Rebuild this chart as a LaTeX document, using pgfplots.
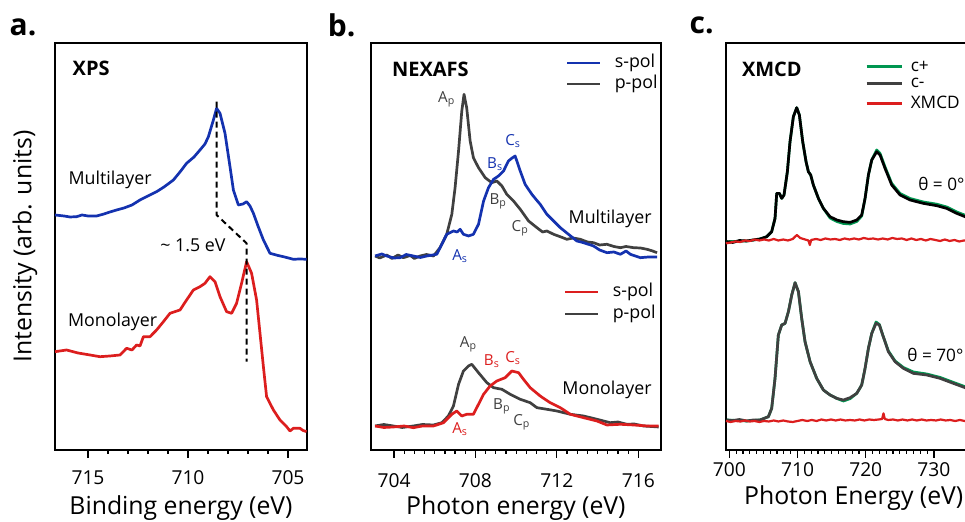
\documentclass[border=0pt]{standalone}
\usepackage{fontspec}
\setmainfont{Open Sans}
\usepackage{pgfplots}
\pgfplotsset{compat=1.18}
\definecolor{cblue}{RGB}{20,50,175}
\definecolor{cred}{RGB}{220,30,30}
\definecolor{cgray}{RGB}{64,64,64}
\definecolor{cgreen}{RGB}{0,150,80}
\pgfplotsset{panel/.style={
  scale only axis, height=203.5pt, ymin=0, ymax=407,
  ytick=\empty, xtick pos=bottom, tick align=outside,
  axis line style={line width=0.9pt},
  major tick length=4pt, minor tick length=2pt,
  every tick/.style={black, line width=0.6pt},
  tick label style={font=\fontsize{9.6}{11}\selectfont},
  label style={font=\fontsize{12.4}{15}\selectfont},
  /pgf/number format/assume math mode=true,
  /pgf/number format/1000 sep={},
  every axis plot/.append style={line width=1.35pt, line join=round},
  anchor=south west}}
\begin{document}
\begin{tikzpicture}
% ---------------- panel a ----------------
\begin{axis}[panel, at={(27.5pt,36pt)}, width=126pt,
  x dir=reverse, xmin=704.05, xmax=716.65,
  xtick={705,710,715}, minor tick num=4,
  xticklabel style={yshift=-3pt},
  xlabel={Binding energy (eV)},
  xlabel style={at={(axis description cs:0.5,-0.1425)}, anchor=center},
  ylabel={Intensity (arb. units)},
  ylabel style={at={(axis description cs:-0.119,0.5)}, anchor=center, rotate=0}]
\addplot[cblue] coordinates {
(716.65,235) (716.2,234) (715.9,233) (715.57,233.3) (715.3,235) (715.0,234) (714.57,234) (714.2,236) (713.9,238) (713.57,240)
(713.2,242) (712.8,245) (712.4,250) (712.0,254) (711.57,258.3) (711.2,263) (710.73,270) (710.4,278) (710.07,286.7)
(709.7,293) (709.4,300) (709.15,306) (708.98,313.3) (708.73,330) (708.57,341.7) (708.4,336.7) (708.15,316.7)
(707.9,283.3) (707.73,260) (707.48,245) (707.25,246) (707.07,248.3) (706.9,244) (706.73,236.7) (706.5,224)
(706.23,210) (705.9,196.7) (705.5,194.5) (705.23,193.3) (704.73,190.7) (704.4,191) (704.07,190.7)};
\addplot[cred] coordinates {
(716.65,98.3) (716.07,100) (715.5,97) (714.9,95) (714.4,93.3) (713.9,94) (713.4,95) (713.07,101.7) (712.8,100) (712.57,105)
(712.4,104) (712.23,113.3) (711.9,113.3) (711.57,120) (711.23,128.3) (710.9,136.7) (710.4,140) (710.07,150)
(709.73,160) (709.4,163.3) (709.15,166.7) (708.9,173.3) (708.65,168.3) (708.4,153.3) (708.07,138.3) (707.82,136.7)
(707.57,146.7) (707.32,166.7) (707.07,188.3) (706.82,176.7) (706.57,150) (706.4,116.7) (706.23,83.3) (706.07,53.3)
(705.73,40) (705.4,30) (705.07,23.3) (704.9,19) (704.73,21.7) (704.4,21.7) (704.25,19.5) (704.07,18.3)};
\addplot[black, line width=1pt, dashed, dash pattern=on 3pt off 2pt] coordinates {(708.57,348.3) (708.57,235) (707.07,206.7) (707.07,88.3)};
\node[anchor=west, font=\bfseries\fontsize{10}{12}\selectfont] at (axis cs:716.12,382) {XPS};
\node[anchor=west, font=\fontsize{8.9}{11}\selectfont] at (axis cs:716.32,270) {Multilayer};
\node[anchor=west, font=\fontsize{8.9}{11}\selectfont] at (axis cs:716.35,128) {Monolayer};
\node[font=\fontsize{8.9}{11}\selectfont] at (axis cs:709.75,205) {\textasciitilde\ 1.5 eV};
\end{axis}
% ---------------- panel b ----------------
\begin{axis}[panel, at={(185.5pt,36pt)}, width=144.85pt,
  xmin=702.87, xmax=717.1,
  xtick={704,708,712,716}, minor tick num=7,
  xticklabel style={yshift=-4.5pt},
  xlabel={Photon energy (eV)},
  xlabel style={at={(axis description cs:0.5,-0.1425)}, anchor=center}]
\addplot[cgray] coordinates {
(703.07,194) (703.3,192) (703.64,195) (703.9,191.5) (704.2,195) (704.46,192.3) (704.8,194.5) (705.0,191.5) (705.28,194)
(705.6,195.5) (705.94,194) (706.26,202.3) (706.59,215.7) (706.84,235.7) (707.0,262.3) (707.17,299) (707.33,339)
(707.44,355.7) (707.57,342.3) (707.74,309) (707.9,292.3) (708.15,282.3) (708.48,272.3) (708.8,267.3) (709.05,269)
(709.3,264) (709.54,255.7) (709.87,249) (710.2,240.7) (710.61,229) (711.02,222.3) (711.3,218) (711.51,219) (711.84,215.7)
(712.2,213) (712.49,210.7) (712.8,212) (713.15,210.7) (713.5,208) (713.8,207.3) (714.1,205) (714.46,205.7)
(714.8,203.5) (715.12,202.3) (715.4,203.5) (715.77,202.3) (716.1,202) (716.43,200.7) (716.7,199) (716.92,197.3)};
\addplot[cblue] coordinates {
(703.07,194) (703.4,196) (703.64,194) (704.0,192) (704.3,192.3) (704.6,195.5) (704.95,194) (705.3,192.5) (705.61,194)
(706.1,195.7) (706.59,215.7) (706.92,219) (707.1,218) (707.25,220.7) (707.41,215.7) (707.66,214) (707.9,215.7)
(708.15,225.7) (708.4,249) (708.64,262.3) (708.89,270.7) (709.13,274) (709.38,279) (709.62,289) (709.8,292)
(709.95,294) (710.2,279) (710.44,265.7) (710.77,255.7) (711.0,250) (711.18,245.7) (711.51,235.7) (711.84,229)
(712.17,222.3) (712.57,215.7) (712.98,209) (713.31,207.3) (713.8,204) (714.1,200) (714.46,197.3) (714.8,198)
(715.12,195.7) (715.4,199) (715.61,195.7) (716.1,192.3) (716.5,193) (716.92,193)};
\addplot[cgray] coordinates {
(703.07,24) (703.5,25.5) (703.97,24) (704.4,22.5) (704.95,24) (705.4,25.5) (705.94,25) (706.35,27.3) (706.67,34)
(706.92,44) (707.17,65.7) (707.41,79) (707.66,84) (707.82,85.7) (708.15,77.3) (708.56,67.3) (708.89,62.3) (709.3,60.7)
(709.71,55.7) (710.2,50.7) (710.69,47.3) (711.02,42.3) (711.51,40.7) (712.0,39) (712.66,35.7) (713.31,34)
(713.97,30.7) (714.62,27.3) (715.0,28) (715.44,25.7) (715.8,26) (716.26,24) (717.0,23)};
\addplot[cred] coordinates {
(703.07,24) (703.5,22.5) (703.97,23) (704.5,24) (704.95,22.3) (705.4,24) (705.94,24) (706.43,27.3) (706.84,35.7)
(707.08,39) (707.33,34) (707.57,35.7) (707.9,35.7) (708.15,45.7) (708.4,55.7) (708.72,64) (709.05,69) (709.46,72.3)
(709.79,79) (710.12,77.3) (710.36,70.7) (710.69,62.3) (711.18,54) (711.67,47.3) (712.17,42.3) (712.66,35.7)
(713.31,32.3) (713.97,29) (714.46,25) (715.12,25.7) (715.77,25) (716.43,24) (717.0,24)};
% legends
\draw[cblue, line width=1.35pt] (axis cs:712.51,387) -- (axis cs:714.13,387);
\draw[cgray, line width=1.35pt] (axis cs:712.51,366) -- (axis cs:714.13,366);
\node[anchor=west, font=\fontsize{8.9}{11}\selectfont] at (axis cs:714.5,387) {s-pol};
\node[anchor=west, font=\fontsize{8.9}{11}\selectfont] at (axis cs:714.5,366) {p-pol};
\draw[cred, line width=1.35pt] (axis cs:712.41,158) -- (axis cs:714.04,158);
\draw[cgray, line width=1.35pt] (axis cs:712.41,136) -- (axis cs:714.04,136);
\node[anchor=west, font=\fontsize{8.9}{11}\selectfont] at (axis cs:714.4,158) {s-pol};
\node[anchor=west, font=\fontsize{8.9}{11}\selectfont] at (axis cs:714.4,136) {p-pol};
\node[anchor=west, font=\bfseries\fontsize{10}{12}\selectfont] at (axis cs:703.56,381) {NEXAFS};
\node[anchor=east, font=\fontsize{8.9}{11}\selectfont] at (axis cs:717.0,231) {Multilayer};
\node[anchor=east, font=\fontsize{8.9}{11}\selectfont] at (axis cs:717.0,60) {Monolayer};
\begin{scope}[every node/.style={font=\fontsize{7.6}{9}\selectfont}]
\node[cgray] at (axis cs:706.59,351) {A\textsubscript{p}};
\node[cblue] at (axis cs:708.97,286) {B\textsubscript{s}};
\node[cblue] at (axis cs:709.85,309) {C\textsubscript{s}};
\node[cgray] at (axis cs:709.12,249) {B\textsubscript{p}};
\node[cgray] at (axis cs:710.2,222) {C\textsubscript{p}};
\node[cblue] at (axis cs:707.25,194) {A\textsubscript{s}};
\node[cgray] at (axis cs:707.66,106) {A\textsubscript{p}};
\node[cred] at (axis cs:708.81,89) {B\textsubscript{s}};
\node[cred] at (axis cs:709.85,92) {C\textsubscript{s}};
\node[cgray] at (axis cs:709.3,44) {B\textsubscript{p}};
\node[cgray] at (axis cs:710.28,27.3) {C\textsubscript{p}};
\node[cred] at (axis cs:707.25,21) {A\textsubscript{s}};
\end{scope}
\end{axis}
% ---------------- panel c ----------------
\begin{axis}[panel, at={(362.85pt,36pt)}, width=128pt,
  xmin=699.47, xmax=737,
  xtick={700,710,720,730}, minor tick num=9,
  xticklabel style={yshift=1pt},
  xlabel={Photon Energy (eV)},
  xlabel style={at={(axis description cs:0.5,-0.118)}, anchor=center}]
% top: c+ (green) and c- (black)
\addplot[cgreen] coordinates {
(699.62,208.3) (702.55,209) (704.5,211) (705.48,213.3) (706.21,218.3) (706.7,231.6) (706.95,256.6) (707.34,256.6)
(707.68,251.6) (708.02,255) (708.51,278.3) (708.9,308.3) (709.39,333.3) (709.88,342.3) (710.27,335) (710.76,308.3)
(711.25,288.3) (711.59,278.3) (711.93,275) (712.32,265) (713.06,251.6) (713.79,241.6) (714.77,232) (715.75,228.5)
(716.72,226.5) (717.7,226) (718.68,228.5) (719.41,234) (719.9,251.6) (720.39,275) (720.88,290) (721.61,300)
(722.1,296.5) (722.83,283) (723.81,266.5) (725.03,256.5) (726.5,251.5) (728.45,248) (730.41,245.8) (731.87,243)
(733.34,238) (734.56,234.8) (737,228.5)};
\addplot[black] coordinates {
(699.62,208.3) (700.5,207.5) (701.5,209.5) (702.55,209) (703.5,210) (704.5,211) (705.48,213.3) (706.21,218.3) (706.7,231.6) (706.95,256.6) (707.34,256.6)
(707.68,251.6) (708.02,255) (708.51,278.3) (708.9,308.3) (709.39,333.3) (709.88,342.3) (710.27,335) (710.76,308.3)
(711.25,288.3) (711.59,278.3) (711.93,275) (712.32,265) (713.06,251.6) (713.79,241.6) (714.77,233.3) (715.75,230)
(716.72,228.3) (717.7,227.6) (718.68,230) (719.41,235) (719.9,251.6) (720.39,275) (720.88,290) (721.61,298.3)
(722.1,295) (722.83,281.6) (723.81,265) (725.03,255) (726.5,250) (728.45,246.6) (730.41,244.3) (731.87,241.6)
(733.34,236.6) (734.56,233.3) (737,227)};
\addplot[cred, line width=1.1pt] coordinates {
(699.5,206.6) (700.2,207.5) (700.9,208.5) (701.6,208) (702.3,209.5) (703.0,209) (703.7,210.5) (704.4,209.5) (705.1,210.5)
(705.8,209.5) (706.5,211) (707.2,209.5) (707.9,210.5) (708.6,209.5) (709.3,211) (709.9,215) (710.4,212) (711.1,210.5)
(711.6,209.5) (711.8,205) (712.0,210) (712.7,211) (713.4,210) (714.1,211.5) (714.8,210.5) (715.5,211) (716.2,210)
(716.9,211.5) (717.6,210.5) (718.3,211.5) (719.0,210.5) (719.7,212) (720.4,211) (721.1,211.5) (721.8,210.5)
(722.5,211.5) (723.2,210.5) (723.9,212) (724.6,211) (725.3,211.5) (726.0,210) (726.7,211.5) (727.4,210) (728.1,211)
(728.8,209.5) (729.5,211) (730.2,210) (730.9,209) (731.6,210.5) (732.3,209) (733.0,210) (733.7,208.5) (734.4,209.5)
(735.1,209) (735.8,210) (736.5,209) (737,209.5)};
% bottom
\addplot[cgreen] coordinates {
(699.62,30) (702.55,29) (704.5,30) (705.73,33.3) (706.21,41.6) (706.7,71.6) (707.19,115) (707.68,125) (708.17,126.6)
(708.66,138.3) (709.15,155) (709.64,167.3) (710.13,158.3) (710.61,131.6) (711.1,108.3) (711.84,88.3) (712.81,71.6)
(713.79,60) (714.77,55) (715.75,51.6) (716.72,49) (717.7,51.3) (718.68,56.6) (719.41,65) (719.9,81.6) (720.39,101.6)
(720.88,116.6) (721.51,128) (722.0,125.5) (722.49,115) (723.32,99) (724.3,89) (725.52,82.5) (726.99,78) (728.94,76)
(730.9,72.6) (732.85,67.6) (734.56,63.3) (737,57)};
\addplot[cgray] coordinates {
(699.62,30) (700.5,29.5) (701.5,30.5) (702.55,29) (703.5,30) (704.5,30) (705.73,33.3) (706.21,41.6) (706.7,71.6) (707.19,115) (707.68,125) (708.17,126.6)
(708.66,138.3) (709.15,155) (709.64,167.3) (710.13,158.3) (710.61,131.6) (711.1,108.3) (711.84,88.3) (712.81,71.6)
(713.79,60) (714.77,55) (715.75,51.6) (716.72,50) (717.7,52.3) (718.68,56.6) (719.41,65) (719.9,81.6) (720.39,101.6)
(720.88,116.6) (721.51,126.6) (722.0,125) (722.49,115) (723.32,98.3) (724.3,88.3) (725.52,81.6) (726.99,76.6)
(728.94,75) (730.9,71.6) (732.85,66.6) (734.56,62.3) (737,56)};
\addplot[cred, line width=1.1pt] coordinates {
(699.5,29) (700.2,28) (700.9,29) (701.6,28.5) (702.3,29.5) (703.0,28.5) (703.7,29) (704.4,28) (705.1,29) (705.8,28.5)
(706.5,29.5) (707.2,28.5) (707.9,29.5) (708.6,28.5) (709.3,28) (710.0,29) (710.7,30) (711.4,29) (712.1,30) (712.8,29)
(713.5,30.5) (714.2,29.5) (714.9,30.5) (715.6,29.5) (716.3,30.5) (717.0,29.5) (717.7,30) (718.4,29.5) (719.1,30.5)
(719.8,29.5) (720.5,30.5) (721.2,30) (721.9,30.5) (722.4,31) (722.6,36.6) (722.8,31) (723.3,30) (724.0,30.5)
(724.7,29.5) (725.4,30.5) (726.1,29.5) (726.8,30.5) (727.5,29.5) (728.2,30.5) (728.9,29.5) (729.6,30) (730.3,29.5)
(731.0,30.5) (731.7,29.5) (732.4,30) (733.1,29) (733.8,30) (734.5,29) (735.2,30) (735.9,29) (737,29.5)};
% legend
\draw[cgreen, line width=1.5pt] (axis cs:720.14,383.3) -- (axis cs:725.27,383.3);
\draw[cgray, line width=1.5pt] (axis cs:720.14,366.6) -- (axis cs:725.27,366.6);
\draw[cred, line width=1.5pt] (axis cs:720.14,346.6) -- (axis cs:725.27,346.6);
\begin{scope}[every node/.style={anchor=west, inner sep=0.5pt, font=\fontsize{8.6}{10}\selectfont}]
\node at (axis cs:726.4,384) {c+};
\node at (axis cs:726.4,367.5) {c-};
\node at (axis cs:726.4,347.5) {XMCD};
\node at (axis cs:727.5,266.3) {θ = 0°};
\node at (axis cs:725.9,95.3) {θ = 70°};
\end{scope}
\node[anchor=west, font=\bfseries\fontsize{10}{12}\selectfont] at (axis cs:700.83,380.3) {XMCD};
\end{axis}
% panel letters
\node[font=\bfseries\fontsize{15}{18}\selectfont] at (11.5pt,247.5pt) {a.};
\node[font=\bfseries\fontsize{15}{18}\selectfont] at (170.85pt,248.5pt) {b.};
\node[font=\bfseries\fontsize{15}{18}\selectfont] at (350.85pt,248.5pt) {c.};
\pgfresetboundingbox
\useasboundingbox (0,0) rectangle (482.5pt,261pt);
\end{tikzpicture}
\end{document}
